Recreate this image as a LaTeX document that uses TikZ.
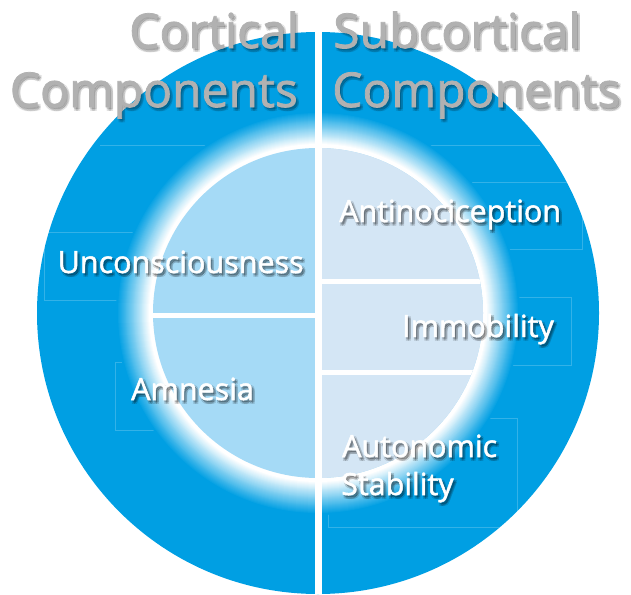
\documentclass[tikz,border=0pt]{standalone}
\usepackage{fontspec}
\setmainfont{Open Sans}
\newfontfamily\headfont{Open Sans}[FakeBold=1.6]
\newfontfamily\labelfont{Open Sans}[FakeBold=1.6]
\usetikzlibrary{calc}

\definecolor{ringblue}{HTML}{009FE3}
\definecolor{cortexfill}{HTML}{A5DAF6}
\definecolor{subfill}{HTML}{D4E6F5}
\definecolor{headgray}{HTML}{B1B1B1}

\tikzset{
  head/.style={text=headgray, font=\headfont\fontsize{48}{56}\selectfont, inner sep=0pt},
  lbl/.style={text=white, font=\labelfont\fontsize{30.5}{36}\selectfont, inner sep=0pt, anchor=base west},
  lblshadow/.style={text=black, text opacity=0.1},
  headshadow/.style={text=black, text opacity=0.07},
  frame/.style={draw=white, draw opacity=0.2, line width=0.6pt},
  divider/.style={draw=white, line width=5pt}
}

% text with a soft drop shadow
\newcommand{\shadowtext}[5]{%
  \foreach \k/\dx/\dy in {1/1/1.5,2/3/1.5,3/1/3.5,4/3/3.5,5/2/2.5}
    \node[#3, #4] (#1-\k) at ($(#2)+(\dx,\dy)$) {#5};
  \node[#3] (#1) at (#2) {#5};
}

\begin{document}
\begin{tikzpicture}[x=1pt, y=-1pt]
  \useasboundingbox (0,0) rectangle (631,594);
  \coordinate (c) at (318,313);

  % outer disc
  \fill[ringblue] (c) circle (281);

  % faint frames of the text boxes
  \draw[frame] (44,232) rectangle (318,300);
  \draw[frame] (115,362) rectangle (318,430);
  \draw[frame] (322,182) rectangle (582,249);
  \draw[frame] (322,297) rectangle (571,365);
  \draw[frame] (328,418) rectangle (517,527);
  \draw[frame] (100,145) -- (222,145);
  \draw[frame] (418,145) -- (540,145);

  % halo round the inner disc
  \foreach \r in {202,201,...,166}{
    \pgfmathtruncatemacro\mix{max(0,min(100,100*(\r-169)/32))}
    \fill[ringblue!\mix!white] (c) circle (\r);
  }

  % inner disc
  \fill[cortexfill] (c) circle (165);
  \begin{scope}
    \clip (c) circle (165);
    \fill[subfill] (318,140) rectangle (490,490);
    \draw[divider] (150,315) -- (318,315);
    \draw[divider] (318,281) -- (490,281);
    \draw[divider] (318,372) -- (490,372);
  \end{scope}

  % split between the two halves
  \fill[white] (315,0) rectangle (322,594);

  % headings
  \shadowtext{cort}{299,48}{head, anchor=base east}{headshadow}{Cortical}
  \shadowtext{cortcomp}{298,107}{head, anchor=base east}{headshadow}{Components}
  \shadowtext{subc}{333,48}{head, anchor=base west}{headshadow}{Subcortical}
  \shadowtext{subccomp}{332,107}{head, anchor=base west}{headshadow}{Components}

  % components
  \shadowtext{uncons}{57.5,273}{lbl}{lblshadow}{Unconsciousness}
  \shadowtext{amnes}{131,400}{lbl}{lblshadow}{Amnesia}
  \shadowtext{antino}{339,222}{lbl}{lblshadow}{Antinociception}
  \shadowtext{immob}{402,337}{lbl}{lblshadow}{Immobility}
  \shadowtext{auto}{342,457}{lbl}{lblshadow}{Autonomic}
  \shadowtext{stab}{341,495}{lbl}{lblshadow}{Stability}
\end{tikzpicture}
\end{document}
